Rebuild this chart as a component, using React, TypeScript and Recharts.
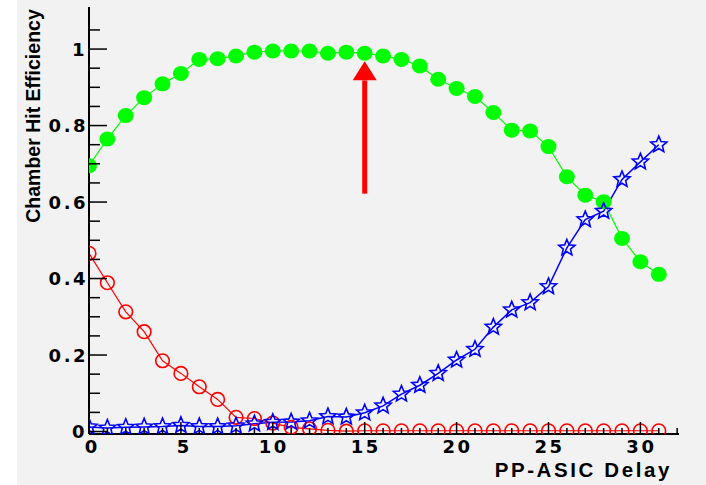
import React from 'react';
import { LineChart, Line, XAxis, YAxis, ReferenceLine, ReferenceDot } from 'recharts';

// PP-ASIC delay settings (x axis)
const delays = [
  0, 1, 2, 3, 4, 5, 6, 7, 8, 9, 10, 11, 12, 13, 14, 15,
  16, 17, 18, 19, 20, 21, 22, 23, 24, 25, 26, 27, 28, 29, 30, 31,
];

// green filled circles: chamber hit efficiency
const hitEfficiency = [
  0.695, 0.765, 0.826, 0.873, 0.909, 0.936, 0.973, 0.975, 0.982, 0.992, 0.995,
  0.995, 0.995, 0.989, 0.992, 0.989, 0.982, 0.973, 0.956, 0.921, 0.897, 0.876,
  0.834, 0.788, 0.786, 0.745, 0.666, 0.618, 0.601, 0.505, 0.444, 0.411,
];

// red open circles: early fraction
const earlyFraction = [
  0.466, 0.389, 0.313, 0.261, 0.185, 0.152, 0.117, 0.084, 0.037, 0.034, 0.022,
  0.011, 0.007, 0.003, 0.001, 0.002, 0.002, 0.002, 0.002, 0.002, 0.002, 0.002,
  0.002, 0.002, 0.002, 0.002, 0.002, 0.002, 0.002, 0.002, 0.002, 0.002,
];

// blue open stars: late fraction
const lateFraction = [
  0.012, 0.009, 0.011, 0.012, 0.013, 0.016, 0.013, 0.013, 0.015, 0.02, 0.024,
  0.025, 0.028, 0.039, 0.038, 0.049, 0.067, 0.098, 0.121, 0.152, 0.187, 0.215,
  0.273, 0.318, 0.337, 0.379, 0.48, 0.554, 0.576, 0.659, 0.705, 0.75,
];

const xTicks = [
  0, 1, 2, 3, 4, 5, 6, 7, 8, 9, 10, 11, 12, 13, 14, 15, 16,
  17, 18, 19, 20, 21, 22, 23, 24, 25, 26, 27, 28, 29, 30, 31, 32,
];
const xMajor = [0, 5, 10, 15, 20, 25, 30];
const yTicks = [
  0, 0.05, 0.1, 0.15, 0.2, 0.25, 0.3, 0.35, 0.4, 0.45, 0.5,
  0.55, 0.6, 0.65, 0.7, 0.75, 0.8, 0.85, 0.9, 0.95, 1, 1.05,
];
const yMajor = [0, 0.2, 0.4, 0.6, 0.8, 1];

// red arrow marking the chosen delay
const arrowX = 15;
const arrowTail = 0.622;
const arrowBase = 0.918;
const arrowTip = 0.968;

const xDomain = [0, 32.1];
const yDomain = [-0.0065, 1.11];

const data = delays.map((d, i) => ({
  delay: d,
  eff: hitEfficiency[i],
  early: earlyFraction[i],
  late: lateFraction[i],
}));

const labelFont = {
  fontFamily: '"DejaVu Sans", sans-serif',
  fontWeight: 700,
  fontSize: 18,
};

const titleFont = {
  fontFamily: '"Liberation Sans", Arial, sans-serif',
  fontWeight: 700,
};

const XTick = (props: any) => {
  const { x, y, payload } = props;
  const v = payload.value;
  const major = xMajor.includes(v);
  const single = String(v).length === 1;
  return (
    <g>
      <line x1={x} x2={x} y1={y} y2={y - (major ? 12 : 6)} stroke="#000" strokeWidth={1.5} />
      {major && (
        <text
          x={single ? x + 2 : x + 1}
          y={y + 19}
          textAnchor="middle"
          fill="#000"
          style={{ ...labelFont, letterSpacing: single ? 0 : 2.5 }}
        >
          {v}
        </text>
      )}
    </g>
  );
};

const YTick = (props: any) => {
  const { x, y, payload } = props;
  const v = payload.value;
  const major = yMajor.includes(v);
  const txt = v === 0 ? '0' : v === 1 ? '1' : v.toFixed(1);
  const single = txt.length === 1;
  return (
    <g>
      <line x1={x} x2={x + (major ? 18 : 11)} y1={y} y2={y} stroke="#000" strokeWidth={1.5} />
      {major && (
        <text
          x={single ? x - 4.5 : x - 1}
          y={y}
          dy="0.36em"
          textAnchor="end"
          fill="#000"
          style={{ ...labelFont, letterSpacing: single ? 0 : 2.5 }}
        >
          {txt}
        </text>
      )}
    </g>
  );
};

const starPath = (cx: number, cy: number, ro: number, ri: number) => {
  let d = '';
  for (let k = 0; k < 10; k++) {
    const r = k % 2 === 0 ? ro : ri;
    const a = -Math.PI / 2 + (k * Math.PI) / 5;
    d += (k === 0 ? 'M' : 'L') + (cx + r * Math.cos(a)).toFixed(2) + ',' + (cy + r * Math.sin(a)).toFixed(2);
  }
  return d + 'Z';
};

const GreenDot = (p: any) => (
  <ellipse key={`g-${p.index}`} cx={p.cx} cy={p.cy} rx={8} ry={7.5} fill="#00ff00" />
);
const RedDot = (p: any) => (
  <circle key={`r-${p.index}`} cx={p.cx} cy={p.cy} r={6.8} fill="none" stroke="#ff0000" strokeWidth={1.6} />
);
const BlueDot = (p: any) => (
  <path key={`b-${p.index}`} d={starPath(p.cx, p.cy, 8.5, 3.8)} fill="none" stroke="#0000ff" strokeWidth={1.6} />
);

const ArrowHead = (p: any) => (
  <path d={`M${p.cx},${p.cy} L${p.cx - 12},${p.cy + 19} L${p.cx + 12},${p.cy + 19} Z`} fill="#ff0000" />
);

export default function App() {
  return (
    <div style={{ position: 'absolute', left: 0, top: 0, width: 706, height: 485, background: '#fff' }}>
      <div style={{ position: 'absolute', left: 17, top: 0, width: 689, height: 485, background: '#f2f2f2' }} />
      <div style={{ position: 'absolute', left: 0, top: 0 }}>
        <LineChart width={706} height={485} data={data} margin={{ top: 7, right: 27, bottom: 0, left: 0 }}>
          <XAxis
            dataKey="delay"
            type="number"
            domain={xDomain}
            ticks={xTicks}
            interval={0}
            height={51}
            tickSize={0}
            tickMargin={0}
            tickLine={false}
            tick={<XTick />}
            axisLine={{ stroke: '#000', strokeWidth: 2 }}
            allowDataOverflow
            label={{
              content: () => (
                <text x={672} y={477} textAnchor="end" fill="#000" style={{ ...titleFont, fontSize: 20.5, letterSpacing: 2.6 }}>
                  PP-ASIC Delay
                </text>
              ),
            }}
          />
          <XAxis
            xAxisId="top"
            orientation="top"
            type="number"
            domain={xDomain}
            height={0}
            tick={false}
            tickLine={false}
            axisLine={{ stroke: '#000', strokeWidth: 2 }}
          />
          <YAxis
            type="number"
            domain={yDomain}
            ticks={yTicks}
            interval={0}
            width={89}
            tickSize={0}
            tickMargin={0}
            tickLine={false}
            tick={<YTick />}
            axisLine={{ stroke: '#000', strokeWidth: 2 }}
            allowDataOverflow
            label={{
              content: () => (
                <text
                  x={40}
                  y={116}
                  textAnchor="middle"
                  transform="rotate(-90 40 116)"
                  fill="#000"
                  style={{ ...titleFont, fontSize: 19.5 }}
                >
                  Chamber Hit Efficiency
                </text>
              ),
            }}
          />
          <YAxis
            yAxisId="right"
            orientation="right"
            type="number"
            domain={yDomain}
            width={0}
            tick={false}
            tickLine={false}
            axisLine={{ stroke: '#000', strokeWidth: 2 }}
          />
          <ReferenceLine
            segment={[
              { x: arrowX, y: arrowTail },
              { x: arrowX, y: arrowBase },
            ]}
            stroke="#ff0000"
            strokeWidth={5}
          />
          <ReferenceDot x={arrowX} y={arrowTip} shape={ArrowHead} />
          <Line dataKey="eff" type="linear" stroke="#00ff00" strokeWidth={1.2} dot={GreenDot} isAnimationActive={false} />
          <Line dataKey="early" type="linear" stroke="#ff0000" strokeWidth={1.2} dot={RedDot} isAnimationActive={false} />
          <Line dataKey="late" type="linear" stroke="#0000ff" strokeWidth={1.5} dot={BlueDot} isAnimationActive={false} />
        </LineChart>
      </div>
    </div>
  );
}
